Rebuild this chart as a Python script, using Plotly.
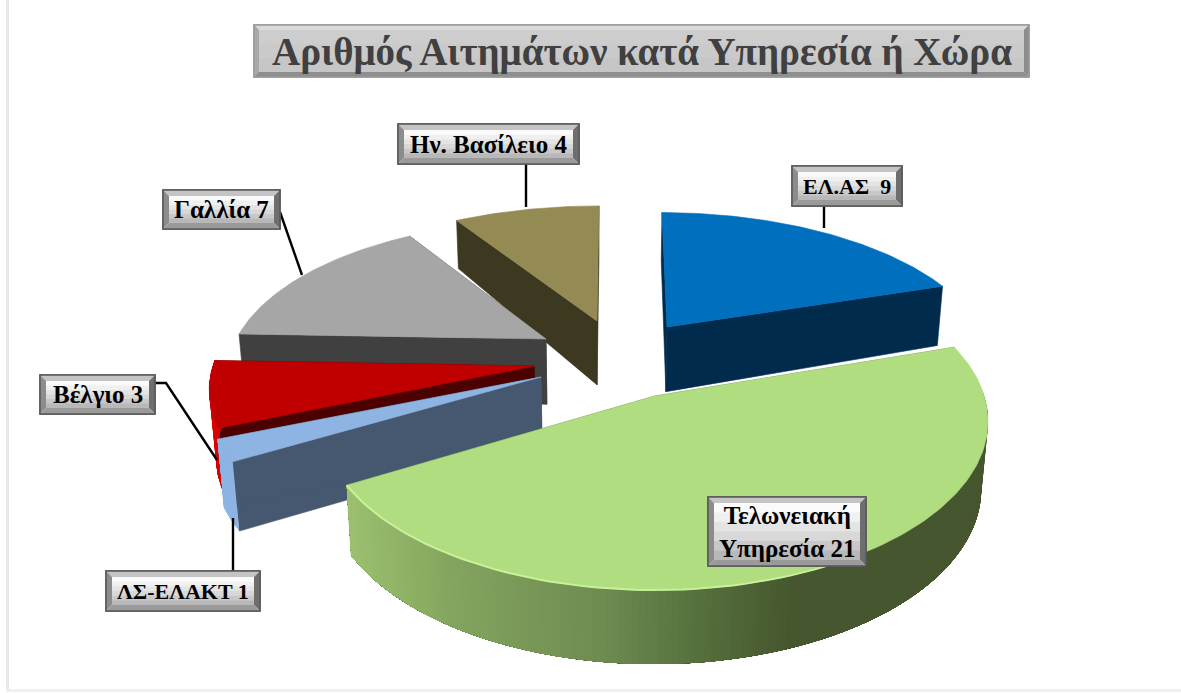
import numpy as np
import plotly.graph_objects as go

# ---------- data ----------
names = ["ΕΛ.ΑΣ ", "Τελωνειακή<br>Υπηρεσία", "ΛΣ-ΕΛΑΚΤ", "Βέλγιο", "Γαλλία", "Ην. Βασίλειο"]
values = [9, 21, 1, 3, 7, 4]
title_text = "Αριθμός Αιτημάτων κατά Υπηρεσία ή Χώρα"

# ---------- slice styles ----------
top_colors = ["#0070BE", "#B0DD80", "#8DB4E2", "#C00000", "#A6A6A6", "#948A54"]
wall_colors = ["#002B4D", "#5A7040", "#45586F", "#4D0000", "#404040", "#3D3820"]
rim_colors = [None, None, "#8DB4E2", "#D80000", "#555555", None]
apex = [(667, 327), (655, 396), (541, 377), (534, 366), (546, 339), (597, 321)]
scale_x = [0.96, 1.01, 1.01, 0.985, 0.95, 0.99]
scale_y = [0.86, 1.0, 0.95, 0.95, 0.885, 0.865]
persp = [0.24, 0.15, 0.15, 0.15, 0.24, 0.24]
skew = [-5, 0, 0, 0, 0, 2]
draw_order = [0, 5, 4, 3, 2, 1]
RX, RY = 326, 165
label_sizes = [22, 25, 22, 25, 25, 25]
# green rim gradient: screen x -> shade
grad_x = [350, 450, 600, 700, 790, 1000]
grad_rgb = np.array([[155, 192, 111], [132, 165, 95], [111, 141, 82], [86, 112, 62], [71, 88, 47], [70, 86, 47]])

total = sum(values)
edges = np.concatenate([[0], np.cumsum(values)]) / total * 360.0


def project(i, theta):
    t = np.radians(theta)
    u, v = np.sin(t), np.cos(t)
    w = 1 + persp[i] * v
    return (apex[i][0] + scale_x[i] * RX * u / w + skew[i] * v,
            apex[i][1] - scale_y[i] * RY * v / w)


def drop(x, y):
    """Bottom of the extrusion under a top-surface point."""
    d = np.interp(y, [220, 290, 330, 480, 590], [48, 60, 65, 70, 74])
    return x + (600 - x) / 60 * d / 65, y + d


def poly(xs, ys, color, name, lw=0.6):
    return go.Scatter(x=list(xs), y=list(ys), mode="lines", fill="toself", fillcolor=color,
                      line=dict(color=color, width=lw), hoverinfo="skip", showlegend=False, name=name)


fig = go.Figure()
for i in draw_order:
    a0, a1 = edges[i], edges[i + 1]
    ax, ay = apex[i]
    abx, aby = drop(ax, ay)
    # radial walls
    for a in (a0, a1):
        ex, ey = project(i, a)
        bx, by = drop(ex, ey)
        fig.add_trace(poly([ax, ex, bx, abx, ax], [ay, ey, by, aby, ay], wall_colors[i], names[i]))
    # outer rim (only the part facing the viewer); each band runs on to the rim's end
    # and the next band paints over it, so no seams appear between the shades
    lo, hi = max(a0, 88), min(a1, 272)
    if hi > lo:
        steps = np.linspace(lo, hi, int(hi - lo) + 2)
        for s0, s1 in zip(steps[:-1], steps[1:]):
            seg = np.linspace(s0, hi, 60)
            tx, ty = project(i, seg)
            bx, by = drop(tx, ty)
            if i == 1:
                mx = project(i, (s0 + s1) / 2)[0]
                rgb = [int(np.interp(mx, grad_x, grad_rgb[:, k])) for k in range(3)]
                col = "rgb(%d,%d,%d)" % tuple(rgb)
            else:
                col = rim_colors[i]
            fig.add_trace(poly(np.r_[tx, bx[::-1], tx[0]], np.r_[ty, by[::-1], ty[0]], col, names[i], lw=0))
    # top surface
    arc = np.linspace(a0, a1, int(a1 - a0) + 2)
    px, py = project(i, arc)
    fig.add_trace(poly(np.r_[ax, px, ax], np.r_[ay, py, ay], top_colors[i], names[i]))
    if i == 1:  # soft bevel highlight along the front edge of the large slice
        arc2 = np.linspace(150, a1, 50)
        hx, hy = project(i, arc2)
        fig.add_trace(go.Scatter(x=hx, y=hy, mode="lines", line=dict(color="#C8F29A", width=2),
                                 hoverinfo="skip", showlegend=False))

# ---------- leader lines ----------
leaders = [
    ([824, 824], [206, 228]),
    ([526, 526], [164, 207]),
    ([280, 302], [212, 275]),
    ([155, 166, 217], [383, 383, 460]),
    ([233, 233], [571, 518]),
]
for lx, ly in leaders:
    fig.add_trace(go.Scatter(x=lx, y=ly, mode="lines", line=dict(color="black", width=2.4),
                             hoverinfo="skip", showlegend=False))

# ---------- frames and bevelled boxes ----------
shapes = [
    dict(type="rect", x0=6, x1=9, y0=0, y1=690, fillcolor="#E8E8E8", line_width=0, layer="below"),
    dict(type="rect", x0=6, x1=1181, y0=689, y1=692, fillcolor="#F0F0F0", line_width=0, layer="below"),
]


def path(pts):
    return "M" + " L".join("%g,%g" % p for p in pts) + " Z"


def bevel_box(x0, y0, x1, y1, b, cols, bands):
    top, left, right, bottom, border = cols
    shapes.append(dict(type="rect", x0=x0, x1=x1, y0=y0, y1=y1, fillcolor=bands[0], line=dict(color=border, width=1.5), layer="above"))
    ix0, iy0, ix1, iy1 = x0 + b, y0 + b, x1 - b, y1 - b
    h = (iy1 - iy0) / len(bands)
    for k, c in enumerate(bands):
        shapes.append(dict(type="rect", x0=ix0, x1=ix1, y0=iy0 + k * h, y1=iy0 + (k + 1) * h + 0.5, fillcolor=c, line_width=0, layer="above"))
    for pts, c in (
        ([(x0, y0), (x1, y0), (ix1, iy0), (ix0, iy0)], top),
        ([(x0, y0), (ix0, iy0), (ix0, iy1), (x0, y1)], left),
        ([(x1, y0), (ix1, iy0), (ix1, iy1), (x1, y1)], right),
        ([(x0, y1), (ix0, iy1), (ix1, iy1), (x1, y1)], bottom),
    ):
        shapes.append(dict(type="path", path=path(pts), fillcolor=c, line_width=0, layer="above"))
    shapes.append(dict(type="rect", x0=x0, x1=x1, y0=y0, y1=y1, line=dict(color=border, width=1.5), layer="above"))


label_cols = ("#C4C4C4", "#8C8C8C", "#6E6E6E", "#9A9A9A", "#585858")
label_bands = ["#FAFAFA", "#F0F0F0", "#E4E4E4", "#D8D8D8", "#C8C8C8", "#B8B8B8"]
bevel_box(254, 25, 1029, 77, 5, ("#DADADA", "#A8A8A8", "#8C8C8C", "#8E8E8E", "#9A9A9A"),
          ["#CDCDCD", "#CACACA", "#C6C6C6"])
label_boxes = [(792, 166, 902, 206), (708, 497, 866, 566), (106, 571, 260, 611),
               (40, 375, 155, 414), (163, 190, 280, 229), (398, 124, 579, 164)]
for box in label_boxes:
    bevel_box(*box, 6, label_cols, label_bands)

# ---------- text ----------
annotations = [dict(x=641.5, y=52, xref="x", yref="y", text="<b>%s</b>" % title_text, showarrow=False,
                    font=dict(family="Liberation Serif", size=39, color="#404040"))]
for name, val, box, size in zip(names, values, label_boxes, label_sizes):
    annotations.append(dict(x=(box[0] + box[2]) / 2, y=(box[1] + box[3]) / 2, xref="x", yref="y",
                            text="<b>%s %d</b>" % (name, val), showarrow=False,
                            font=dict(family="Liberation Serif", size=size, color="black")))

fig.update_layout(
    width=1181, height=693, margin=dict(l=0, r=0, t=0, b=0),
    paper_bgcolor="white", plot_bgcolor="white", showlegend=False,
    xaxis=dict(range=[0, 1181], visible=False, fixedrange=True),
    yaxis=dict(range=[693, 0], visible=False, fixedrange=True),
    shapes=shapes, annotations=annotations,
)
fig.write_html("out.html", config={"displayModeBar": False},
               post_script="document.body.style.margin='0';")
